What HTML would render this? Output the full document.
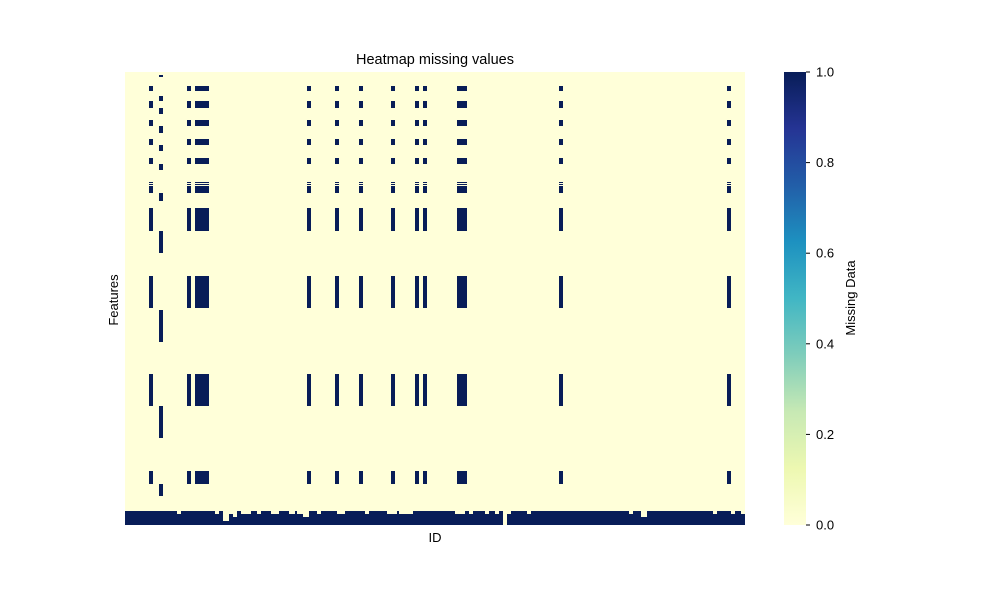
<!DOCTYPE html>
<html><head><meta charset="utf-8"><style>
body{margin:0;background:#fff;}
svg{display:block;font-family:"Liberation Sans","DejaVu Sans",sans-serif;}
</style></head><body>
<svg id="chart" width="1000" height="600" xmlns="http://www.w3.org/2000/svg">
<defs>
<linearGradient id="ylgnbu" x1="0" y1="1" x2="0" y2="0">
<stop offset="0" stop-color="#ffffd9"/>
<stop offset="0.125" stop-color="#edf8b1"/>
<stop offset="0.25" stop-color="#c7e9b4"/>
<stop offset="0.375" stop-color="#7fcdbb"/>
<stop offset="0.5" stop-color="#41b6c4"/>
<stop offset="0.625" stop-color="#1d91c0"/>
<stop offset="0.75" stop-color="#225ea8"/>
<stop offset="0.875" stop-color="#253494"/>
<stop offset="1" stop-color="#081d58"/>
</linearGradient>
</defs>
<text x="435" y="64" text-anchor="middle" font-size="14.5">Heatmap missing values</text>
<g id="plot"></g>
<text x="435" y="542" text-anchor="middle" font-size="13">ID</text>
<text transform="translate(118,300) rotate(-90)" text-anchor="middle" font-size="13">Features</text>
<rect x="784" y="72" width="22" height="453" fill="url(#ylgnbu)"/>
<g id="cbticks"></g>
<text transform="translate(855,298) rotate(-90)" text-anchor="middle" font-size="13">Missing Data</text>
</svg>
<script>
// Grid: columns of 2px (310 IDs), rows of 1px (453 feature rows)
const nCols = 310, nRows = 453;
// Column groups with repeating missing pattern [startCol, span]
const groupACols = [[12,2],[31,2],[35,7],[91,2],[105,2],[117,2],[133,2],[145,2],[149,2],[166,5],[217,2],[301,2]];
const groupARows = [[14,19],[29,36],[48,54],[67,73],[86,92],[110,111],[112,113],[114,121],[136,159],[204,236],[302,334],[399,412]];
const groupBCols = [[17,2]];
const groupBRows = [[3,5],[24,29],[36,42],[54,61],[73,79],[92,98],[121,129],[159,181],[238,270],[334,366],[412,424]];
// Bottom nearly-full rows
const bottomRows = [439,453];
const fullGapCols = [[189,2]];
// notches: [startCol, span, depthRows]
const notches = [[26,2,3],[45,2,3],[49,3,10],[52,2,3],[54,2,6],[58,5,3],[66,2,3],[73,4,3],[82,3,3],[86,3,3],[89,3,6],[96,2,3],[106,4,3],[120,2,3],[131,5,3],[137,5,3],[142,2,3],[165,5,3],[172,2,3],[180,2,3],[185,2,3],[191,2,3],[201,2,3],[252,2,3],[258,3,6],[294,2,3],[303,2,3],[308,2,3]];
const cbTicks = [0,0.2,0.4,0.6,0.8,1.0];

const X0=125,Y0=72,W=620,H=453;
const xs = c => X0 + c*W/nCols;
const ys = r => Y0 + r*H/nRows;
const NS='http://www.w3.org/2000/svg';
const plot=document.getElementById('plot');
function rect(x,y,w,h,fill,name){
  const el=document.createElementNS(NS,'rect');
  el.setAttribute('x',x);el.setAttribute('y',y);el.setAttribute('width',w);el.setAttribute('height',h);el.setAttribute('fill',fill);
  
  
  plot.appendChild(el);return el;
}
const DARK='#081d58', LIGHT='#ffffd9';
rect(X0,Y0,W,H,LIGHT,'heatmap-background');
function block(cols,rows,name){
  cols.forEach(c=>rows.forEach(r=>{
    rect(xs(c[0]),ys(r[0]),xs(c[0]+c[1])-xs(c[0]),ys(r[1])-ys(r[0]),DARK,name);
  }));
}
block(groupACols,groupARows,'missing-cell');
block(groupBCols,groupBRows,'missing-cell');
rect(X0,ys(bottomRows[0]),W,ys(bottomRows[1])-ys(bottomRows[0]),DARK,'missing-row-block');
fullGapCols.forEach(c=>rect(xs(c[0]),ys(bottomRows[0]),xs(c[0]+c[1])-xs(c[0]),ys(bottomRows[1])-ys(bottomRows[0]),LIGHT,'present-cell'));
notches.forEach(n=>rect(xs(n[0]),ys(bottomRows[0]),xs(n[0]+n[1])-xs(n[0]),ys(bottomRows[0]+n[2])-ys(bottomRows[0]),LIGHT,'present-cell'));

const cb=document.getElementById('cbticks');
cbTicks.forEach(t=>{
  const y=525-t*453;
  const l=document.createElementNS(NS,'line');
  l.setAttribute('x1',806);l.setAttribute('x2',810);l.setAttribute('y1',y);l.setAttribute('y2',y);l.setAttribute('stroke','#000');
  
  
  cb.appendChild(l);
  const tx=document.createElementNS(NS,'text');
  tx.setAttribute('x',816);tx.setAttribute('y',y+4.5);tx.setAttribute('font-size','13');
  tx.textContent=t.toFixed(1);
  
  
  cb.appendChild(tx);
});
</script>
</body></html>
